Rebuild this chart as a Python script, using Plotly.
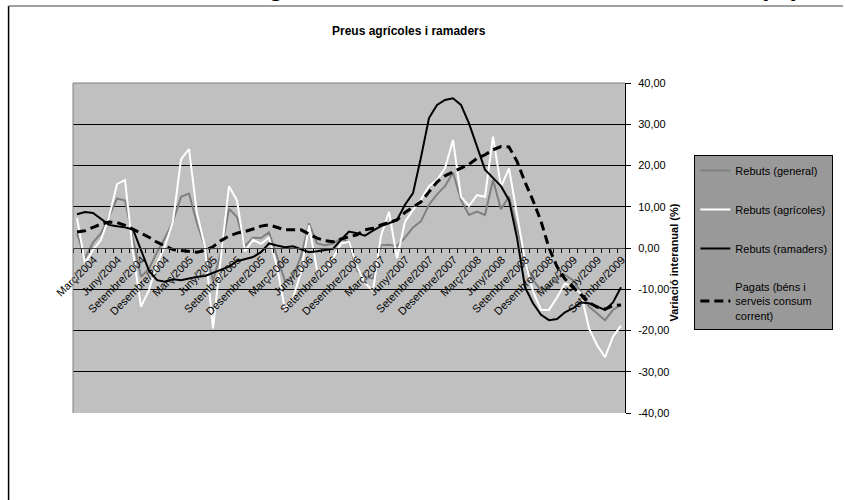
import plotly.graph_objects as go

# ---- data (monthly, Març/2004 .. Novembre/2009) ----
tick_labels = [
    "Març/2004", "Juny/2004", "Setembre/2004", "Desembre/2004",
    "Març/2005", "Juny/2005", "Setembre/2005", "Desembre/2005",
    "Març/2006", "Juny/2006", "Setembre/2006", "Desembre/2006",
    "Març/2007", "Juny/2007", "Setembre/2007", "Desembre/2007",
    "Març/2008", "Juny/2008", "Setembre/2008", "Desembre/2008",
    "Març/2009", "Juny/2009", "Setembre/2009",
]

rebuts_general = [
    3.5, -2.5, 1.3, 3.6, 7.5, 12.0, 11.5, 2.0, -7.0, -5.0, -1.0, 2.5,
    6.4, 12.4, 13.2, 6.0, 0.3, -8.0, -1.0, 9.5, 7.5, 0.5, 2.5, 2.4,
    3.8, -2.0, -8.0, -7.0, -2.0, 6.0, 1.1, 0.7, 1.1, 2.3, 1.3, -5.5,
    -7.0, -7.4, 0.7, 0.8, 0.5, 2.5, 5.0, 6.5, 10.5, 13.0, 15.0, 18.3,
    11.6, 8.0, 8.8, 8.0, 16.5, 9.4, 12.5, 5.0, -3.7, -7.8, -10.2, -9.4,
    -7.0, -6.5, -7.8, -10.7, -14.2, -15.8, -17.5, -15.0, -13.8,
]
rebuts_agricoles = [
    7.2, -3.7, -0.5, 2.0, 7.5, 15.5, 16.5, -1.0, -14.2, -10.2, -3.7, 0.5,
    6.5, 21.5, 24.0, 8.4, 0.3, -19.5, -2.0, 15.0, 11.5, -0.8, 2.0, 1.0,
    2.5, -4.5, -15.0, -12.0, -6.0, 5.5, -5.3, -5.5, -2.5, 1.1, 1.5, -4.5,
    -8.5, -10.4, 3.0, 8.8, -2.5, 6.4, 9.2, 11.8, 15.0, 16.5, 19.3, 26.2,
    12.4, 10.2, 12.8, 12.4, 27.0, 14.8, 19.3, 8.4, -3.0, -10.5, -15.0, -15.0,
    -12.0, -8.6, -9.4, -11.0, -19.5, -23.5, -26.5, -21.5, -18.8,
]
rebuts_ramaders = [
    8.2, 8.7, 8.5, 7.0, 5.6, 5.3, 5.0, 4.5, -0.5, -5.5, -7.8, -8.2,
    -7.6, -7.8, -7.4, -7.0, -6.8, -6.0, -5.2, -4.5, -3.2, -2.7, -2.2, -1.0,
    1.1, 0.6, 0.2, 0.4, -0.3, -1.0, -0.8, -0.5, -0.2, 2.0, 4.0, 3.6,
    3.0, 4.2, 5.3, 6.0, 6.8, 10.5, 13.3, 22.0, 31.5, 34.7, 35.9, 36.3,
    34.7, 30.2, 24.5, 19.0, 17.0, 15.0, 11.6, 2.5, -9.5, -13.4, -16.2, -17.5,
    -17.2, -15.6, -14.6, -13.2, -13.4, -14.3, -15.0, -13.2, -9.5,
]
pagats = [
    3.9, 4.2, 5.0, 5.8, 6.3, 6.2, 5.5, 4.6, 3.6, 2.6, 1.4, 0.5,
    -0.4, -0.6, -0.8, -1.0, -0.6, 0.3, 1.8, 2.9, 3.6, 4.0, 4.6, 5.3,
    5.6, 5.0, 4.4, 4.4, 4.4, 3.4, 2.4, 1.8, 1.5, 2.2, 2.7, 3.2,
    4.4, 4.8, 5.6, 6.2, 6.8, 8.6, 9.8, 11.2, 13.6, 16.0, 17.5, 18.5,
    19.5, 20.3, 21.7, 22.6, 23.8, 24.6, 24.5, 21.0, 16.0, 11.5, 6.5, 0.0,
    -4.5, -7.5, -9.5, -11.3, -13.2, -14.3, -14.8, -14.0, -13.8,
]
y_ticks = [-40, -30, -20, -10, 0, 10, 20, 30, 40]
y_tick_text = ["-40,00", "-30,00", "-20,00", "-10,00", "0,00",
               "10,00", "20,00", "30,00", "40,00"]

x = list(range(len(rebuts_general)))
tick_positions = list(range(0, len(x), 3))[:len(tick_labels)]

FONT = "Liberation Sans, Arial, sans-serif"

# plot area in pixels (for paper-coordinate helpers)
W, H = 845, 500
L, R, T, B = 73, 630, 83, 413


def px(xp):
    return (xp - L) / (R - L)


def py(yp):
    return (B - yp) / (B - T)


fig = go.Figure()
series = [
    ("Rebuts (general)", rebuts_general, "#808080", 2, "solid"),
    ("Rebuts (agrícoles)", rebuts_agricoles, "#ffffff", 2, "solid"),
    ("Rebuts (ramaders)", rebuts_ramaders, "#000000", 2, "solid"),
    ("Pagats (béns i<br>serveis consum<br>corrent)", pagats, "#000000", 3, "9px,5px"),
]
for name, vals, color, width, dash in series:
    fig.add_trace(go.Scatter(
        x=x, y=vals, mode="lines", name=name, legendgroup=name,
        line=dict(color=color, width=width, dash=dash),
        hoverinfo="skip",
    ))

fig.update_layout(
    width=W, height=H, autosize=False,
    margin=dict(l=L, r=W - R, t=T, b=H - B, pad=0),
    paper_bgcolor="white",
    plot_bgcolor="#c0c0c0",
    font=dict(family=FONT, size=11, color="black"),
    showlegend=True,
    legend=dict(
        x=px(700), y=py(155), xanchor="left", yanchor="top",
        bgcolor="#999999", bordercolor="black", borderwidth=1,
        font=dict(family=FONT, size=11, color="black"),
        tracegroupgap=20, traceorder="grouped",
        itemwidth=30,
    ),
    xaxis=dict(
        range=[-0.5, len(x) - 0.5],
        tickmode="array", tickvals=tick_positions, ticktext=tick_labels,
        tickangle=-45, ticks="", showgrid=False, zeroline=False,
        showline=True, linecolor="#404040", linewidth=1,
        anchor="free", position=0.5,
        tickfont=dict(family=FONT, size=11, color="black"),
        ticklabelshift=17,
        minor=dict(
            tickmode="array",
            tickvals=[i - 0.5 for i in range(len(x) + 1)],
            ticks="outside", ticklen=4, tickcolor="black", tickwidth=1,
            showgrid=False,
        ),
    ),
    yaxis=dict(
        range=[-40, 40], side="right",
        tickmode="array", tickvals=y_ticks, ticktext=y_tick_text,
        ticks="outside", ticklen=5, tickcolor="black",
        showline=True, linecolor="black", linewidth=1,
        showgrid=True, gridcolor="black", gridwidth=1,
        zeroline=False,
        tickfont=dict(family=FONT, size=11, color="black"),
        ticklabelstandoff=5,
    ),
    shapes=[
        # plot-area border (left and top)
        dict(type="line", xref="paper", yref="paper", x0=0, x1=0, y0=0, y1=1,
             line=dict(color="#808080", width=1)),
        dict(type="line", xref="paper", yref="paper", x0=0, x1=1, y0=1, y1=1,
             line=dict(color="#808080", width=1)),
        # chart-area border
        dict(type="line", xref="paper", yref="paper", x0=px(8), x1=px(8),
             y0=py(6), y1=py(505), line=dict(color="black", width=1.5)),
        dict(type="line", xref="paper", yref="paper", x0=px(8), x1=px(850),
             y0=py(6), y1=py(6), line=dict(color="#808080", width=1.5)),
    ],
    annotations=[
        dict(text="<b>Preus agrícoles i ramaders</b>", xref="paper", yref="paper",
             x=px(412), y=py(31), xanchor="center", yanchor="middle",
             showarrow=False, font=dict(family=FONT, size=12, color="black")),
        dict(text="<b>Variació interanual (%)</b>", xref="paper", yref="paper",
             x=px(679), y=py(263), xanchor="center", yanchor="middle",
             textangle=-90, showarrow=False,
             font=dict(family=FONT, size=11, color="black")),
        dict(text="<b>Preus agrícoles i ramaders. Variació interanual (%)</b>",
             xref="paper", yref="paper", x=px(173), y=py(4),
             xanchor="left", yanchor="bottom", showarrow=False,
             font=dict(family=FONT, size=26, color="black")),
    ],
)

fig.write_html(
    "out.html",
    config={"displayModeBar": False},
    post_script="document.body.style.margin='0';",
)
